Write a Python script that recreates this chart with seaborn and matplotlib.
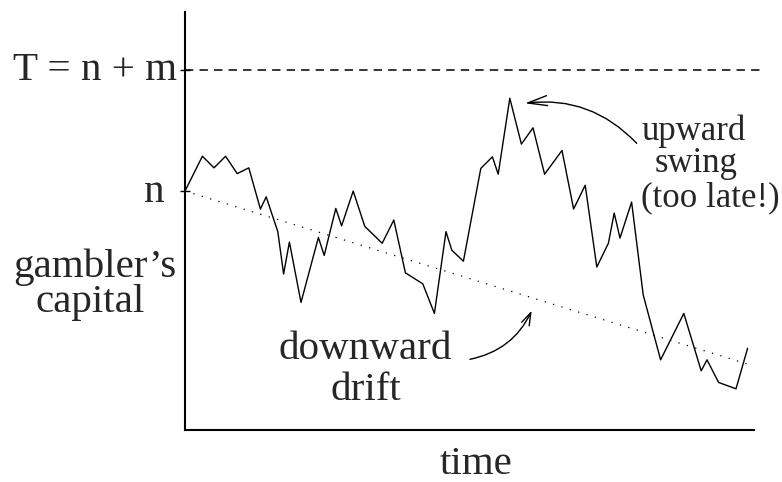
import matplotlib
matplotlib.use('Agg')
import matplotlib.pyplot as plt
import pandas as pd
import seaborn as sns

# ---- data ----
time_steps = [0, 3, 5, 7, 9, 11, 13, 14, 16, 17, 18, 20, 23, 24, 26, 27, 29, 31, 34, 36,
              38, 41, 43, 45, 46, 48, 51, 53, 54, 56, 58, 60, 62, 65, 67, 69, 71, 73, 74, 75,
              77, 79, 82, 86, 89, 90, 92, 95, 97]
capital = [41.2, 47.2, 45.2, 47.2, 44.2, 45.2, 38.1, 40.2, 34.2, 26.9, 32.4, 22.0, 33.2, 30.1,
           38.2, 35.2, 41.2, 35.1, 32.2, 36.2, 27.1, 25.2, 20.1, 34.2, 31.0, 29.1, 45.1, 47.1,
           44.1, 57.2, 49.3, 52.1, 44.1, 48.2, 38.1, 42.2, 28.1, 32.2, 37.4, 33.1, 39.3, 23.3,
           12.1, 20.1, 10.2, 12.1, 8.2, 7.1, 14.1]
n_level = 41.2
target_level = 62.1
drift_time = [0, 96.9]
drift_capital = [41.2, 11.4]
target_time = [0, 99.7]
tick_labels = ["n", "T = n + m"]

df = pd.DataFrame({"time": time_steps, "capital": capital})

sns.set_theme(style="white")
plt.rcParams["font.family"] = ["Liberation Serif", "DejaVu Serif"]

W, H = 782, 482
fig = plt.figure(figsize=(W / 100, H / 100), dpi=100)
ax_left, ax_right, ax_top, ax_bottom = 185, 754, 12, 430
ax = fig.add_axes([ax_left / W, (H - ax_bottom) / H,
                   (ax_right - ax_left) / W, (ax_bottom - ax_top) / H])
unit = 5.8
ax.set_xlim(0, (ax_right - ax_left) / unit)
ax.set_ylim(0, (ax_bottom - ax_top) / unit)


def px(x, y):
    return ((x - ax_left) / unit, (ax_bottom - y) / unit)


sns.lineplot(data=df, x="time", y="capital", color="black", linewidth=1.0,
             sort=False, estimator=None, ax=ax)
ax.plot(drift_time, drift_capital, color="black", linewidth=0.9,
        linestyle=(0, (1, 6)))
ax.plot(target_time, [target_level, target_level], color="black", linewidth=1.1,
        linestyle=(0, (5.5, 4)), clip_on=False)

for s in ["top", "right"]:
    ax.spines[s].set_visible(False)
for s in ["left", "bottom"]:
    ax.spines[s].set_linewidth(1.5)
    ax.spines[s].set_color("black")

ax.set_xticks([])
ax.set_yticks([n_level, target_level])
ax.set_yticklabels([])
ax.tick_params(axis="y", direction="inout", length=7, width=1.0, color="black", left=True)
ax.set_xlabel("")
ax.set_ylabel("")

big = 29.5
small = 25
# tick labels
x, y = px(176.7, 80)
ax.text(x, y, tick_labels[1], fontsize=big, ha="right", va="baseline", clip_on=False)
x, y = px(165, 201.7)
ax.text(x, y, tick_labels[0], fontsize=big, ha="right", va="baseline", clip_on=False)
# y label
x, y = px(94.7, 276.7)
ax.text(x, y, "gambler\u2019s", fontsize=big, ha="center", va="baseline", clip_on=False)
x, y = px(90, 311.7)
ax.text(x, y, "capital", fontsize=big, ha="center", va="baseline", clip_on=False)
# x label
x, y = px(475.7, 474)
ax.text(x, y, "time", fontsize=big, ha="center", va="baseline", clip_on=False)
# drift annotation
x, y = px(365.3, 359)
ax.text(x, y, "downward", fontsize=big, ha="center", va="baseline")
x, y = px(365.8, 400)
ax.text(x, y, "drift", fontsize=big, ha="center", va="baseline")
ax.annotate("", xy=px(531.7, 310.7), xytext=px(470, 359.3),
            arrowprops=dict(arrowstyle="->,head_length=0.9,head_width=0.3",
                            connectionstyle="arc3,rad=0.25", color="black",
                            lw=1.0, mutation_scale=10, shrinkA=0, shrinkB=0))
# swing annotation
x, y = px(642, 140)
ax.text(x, y, "upward", fontsize=small, ha="left", va="baseline", clip_on=False)
x, y = px(654.7, 171.7)
ax.text(x, y, "swing", fontsize=small, ha="left", va="baseline", clip_on=False)
x, y = px(641, 206.7)
ax.text(x, y, "(too late!)", fontsize=small, ha="left", va="baseline", clip_on=False)
ax.annotate("", xy=px(525, 103.3), xytext=px(636.7, 143.3),
            arrowprops=dict(arrowstyle="->,head_length=1.4,head_width=0.36",
                            connectionstyle="arc3,rad=0.25", color="black",
                            lw=1.0, mutation_scale=10, shrinkA=0, shrinkB=0))

fig.savefig("out.png", dpi=100)
